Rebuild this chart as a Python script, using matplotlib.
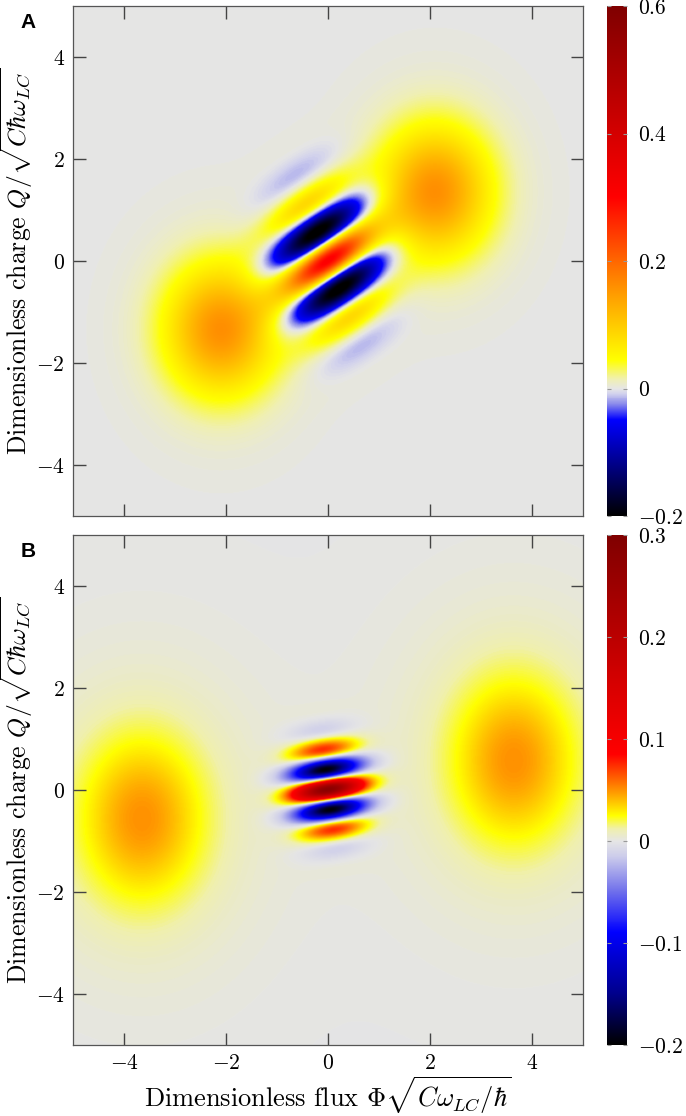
import numpy as np
import matplotlib.pyplot as plt
from matplotlib.colors import LinearSegmentedColormap

plt.rcParams['font.family'] = 'cmr10'
plt.rcParams['mathtext.fontset'] = 'cm'
plt.rcParams['axes.formatter.use_mathtext'] = True

# phase-space grid (dimensionless flux / charge)
axis_ticks = [-4, -2, 0, 2, 4]
grid = np.linspace(-5, 5, 601)

# panel A: cat state, lobes at +-(flux, charge)
a_center = [2.1, 1.35]
a_blob_width = [0.72, 0.84]
a_blob_peak = 0.15
a_halo_width = [1.3, 1.6]
a_halo_peak = 0.011
a_fringe_width = [0.62, 0.8]
a_fringe_peak = 0.30
a_limits = [-0.2, 0.6]
a_ticks = [-0.2, 0, 0.2, 0.4, 0.6]
a_tick_labels = ['$-0.2$', '$0$', '$0.2$', '$0.4$', '$0.6$']
# colour stops (value, rgb)
a_stops = [(-0.2, (0, 0, 0)), (-0.125, (0, 0, 0.5)), (-0.05, (0, 0, 1)),
           (-0.025, (0.55, 0.55, 0.92)), (-0.008, (0.82, 0.82, 0.93)),
           (0.0, (0.9, 0.9, 0.9)), (0.015, (0.94, 0.94, 0.7)),
           (0.045, (1, 1, 0)), (0.146, (1, 0.62, 0)), (0.3, (1, 0, 0)),
           (0.6, (0.5, 0, 0))]

# panel B: larger cat state
b_center = [3.65, 0.57]
b_blob_width = [0.85, 1.15]
b_blob_peak = 0.039
b_halo_width = [1.7, 2.1]
b_halo_peak = 0.011
b_fringe_width = [0.46, 0.5]
b_fringe_peak = 0.28
b_limits = [-0.2, 0.3]
b_ticks = [-0.2, -0.1, 0, 0.1, 0.2, 0.3]
b_tick_labels = ['$-0.2$', '$-0.1$', '$0$', '$0.1$', '$0.2$', '$0.3$']
b_stops = [(-0.2, (0, 0, 0)), (-0.15, (0, 0, 0.55)), (-0.09, (0, 0, 1)),
           (-0.048, (0.45, 0.45, 0.92)), (-0.015, (0.8, 0.8, 0.92)),
           (0.0, (0.9, 0.9, 0.9)), (0.012, (0.94, 0.94, 0.68)),
           (0.025, (1, 1, 0)), (0.048, (1, 0.6, 0)), (0.085, (1, 0, 0)),
           (0.3, (0.5, 0, 0))]


def gauss(x, p, width):
    return np.exp(-x**2 / (2 * width[0]**2) - p**2 / (2 * width[1]**2))


def wigner(center, blob_w, blob_peak, halo_w, halo_peak, fringe_w, fringe_peak):
    X, P = np.meshgrid(grid, grid)
    x0, p0 = center
    W = np.zeros_like(X)
    for s in (1, -1):
        W += blob_peak * gauss(X - s * x0, P - s * p0, blob_w)
        W += halo_peak * gauss(X - s * x0, P - s * p0, halo_w)
    W += fringe_peak * gauss(X, P, fringe_w) * np.cos(2 * (p0 * X - x0 * P))
    return W


def make_cmap(stops, limits):
    lo, hi = limits
    return LinearSegmentedColormap.from_list(
        'w', [((v - lo) / (hi - lo), c) for v, c in stops], N=512)


fig = plt.figure(figsize=(6.86, 11.16), dpi=100)

panels = [
    ('A', 0.5376, wigner(a_center, a_blob_width, a_blob_peak, a_halo_width, a_halo_peak,
                         a_fringe_width, a_fringe_peak), a_stops, a_limits, a_ticks, a_tick_labels),
    ('B', 0.0636, wigner(b_center, b_blob_width, b_blob_peak, b_halo_width, b_halo_peak,
                         b_fringe_width, b_fringe_peak), b_stops, b_limits, b_ticks, b_tick_labels),
]

for letter, bottom, W, stops, limits, cticks, clabels in panels:
    ax = fig.add_axes([0.1064, bottom, 0.743, 0.457])
    cax = fig.add_axes([0.885, bottom, 0.029, 0.457])
    im = ax.imshow(W, extent=[-5, 5, -5, 5], origin='lower', cmap=make_cmap(stops, limits),
                   vmin=limits[0], vmax=limits[1], interpolation='bilinear', aspect='auto')
    ax.set_xlim(-5, 5)
    ax.set_ylim(-5, 5)
    ax.set_xticks(axis_ticks)
    ax.set_yticks(axis_ticks)
    ax.tick_params(direction='in', length=9, width=1, color='#444444', top=True, right=True,
                   labelsize=15.5, pad=6)
    for sp in ax.spines.values():
        sp.set_color('#555555')
        sp.set_linewidth(0.9)
    ax.set_ylabel(r'Dimensionless charge $Q/\sqrt{C\hbar\omega_{LC}}$', fontsize=18.5)
    ax.yaxis.set_label_coords(-0.074, 0.5)
    if letter == 'A':
        ax.tick_params(labelbottom=False)
    else:
        ax.set_xlabel(r'Dimensionless flux $\Phi\sqrt{C\omega_{LC}/\hbar}$', fontsize=19)
        ax.xaxis.set_label_coords(0.5, -0.057)

    cb = fig.colorbar(im, cax=cax)
    cb.outline.set_visible(False)
    cb.set_ticks(cticks)
    cb.set_ticklabels(clabels)
    cax.tick_params(direction='in', length=3, width=0.8, color='#999999', labelsize=15.5,
                    left=True, pad=8)

    fig.text(0.041, bottom + 0.457 - 0.006, letter, fontsize=15, fontweight='bold',
             family='Liberation Sans', ha='center', va='top')

fig.savefig('out.png', dpi=100)
